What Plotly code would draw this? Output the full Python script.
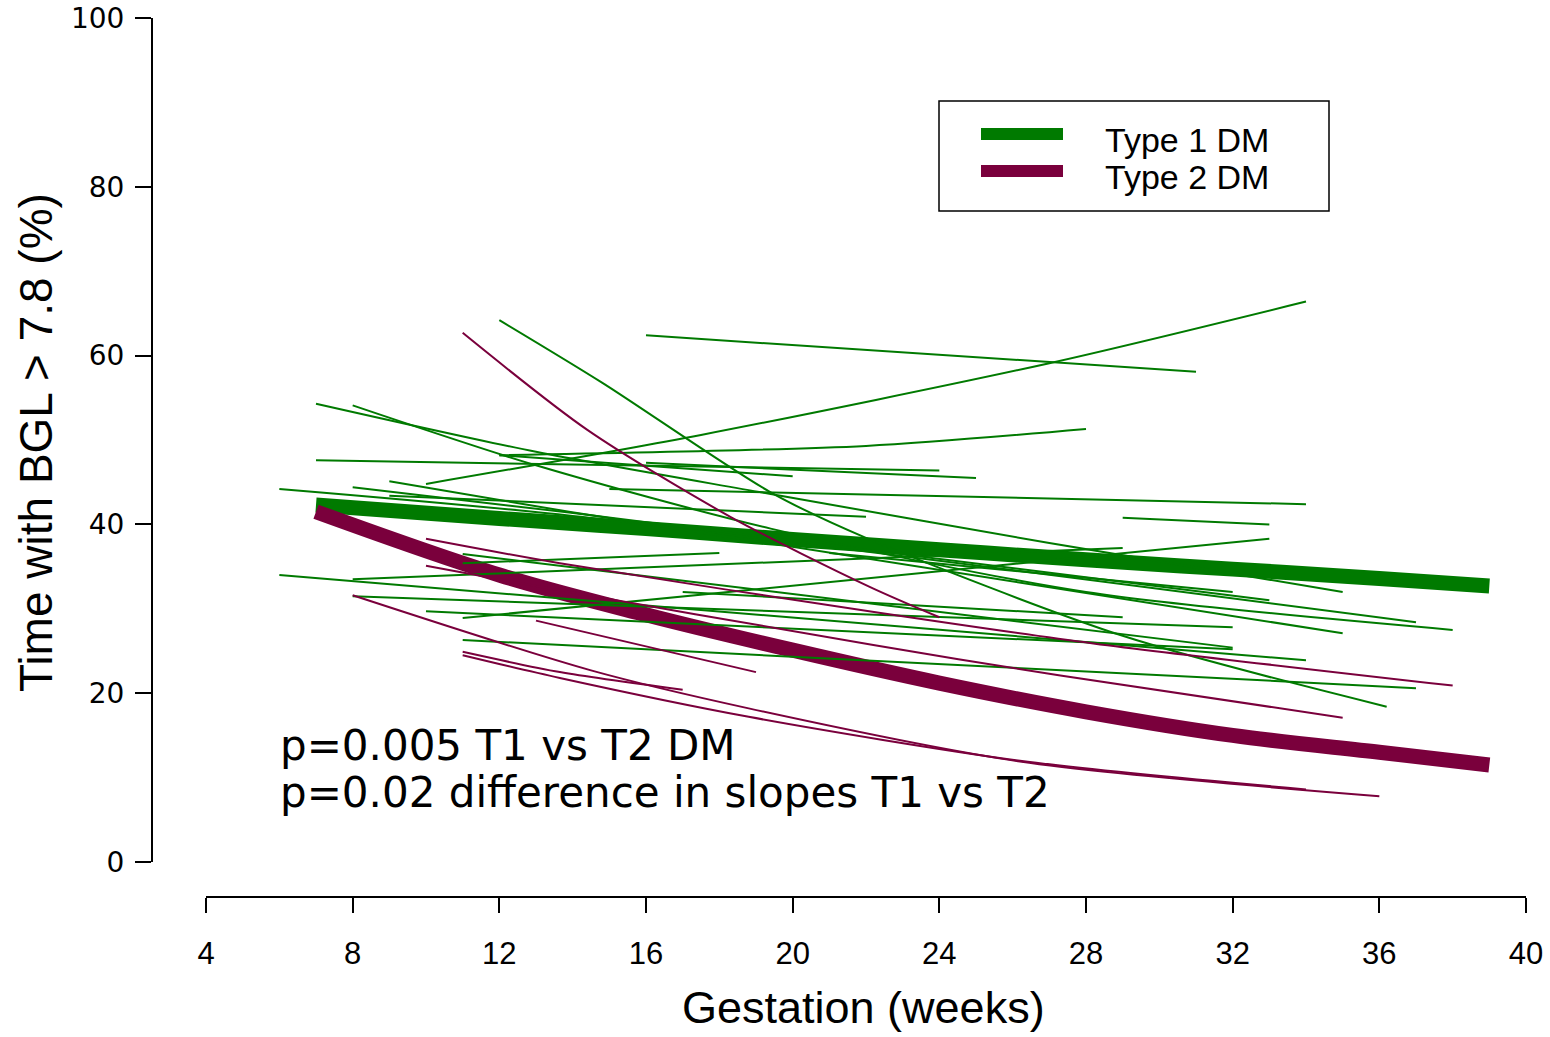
import plotly.graph_objects as go

# ---------------- data ----------------
# Fitted group curves (weeks, % time with BGL > 7.8)
t1_fit_weeks = [7, 12, 16, 20, 24, 28, 32, 36, 39]
t1_fit_vals = [42.3, 40.7, 39.5, 38.2, 37.0, 35.8, 34.7, 33.6, 32.7]
t2_fit_weeks = [7, 12, 16, 20, 24, 28, 32, 36, 39]
t2_fit_vals = [41.5, 34.0, 29.3, 25.1, 21.2, 17.8, 15.0, 13.0, 11.5]

# Individual Type 1 DM trajectories: (weeks, values)
t1_weeks = [
    [16, 31], [10, 17.5, 27, 34], [12, 14.8, 19.4, 22, 29, 36.2],
    [7, 13, 19.4, 27, 35], [8, 13, 19.4, 28, 38], [7, 24], [16, 25],
    [12, 22, 28], [12, 20], [15, 34], [29, 33], [8, 29], [11, 33],
    [11, 18], [21, 32], [9, 22], [6, 14, 37], [9, 13.9, 35], [8, 13.9, 33],
    [11, 32], [6, 34], [8, 32], [10, 32], [11, 37], [17, 29],
]
t1_vals = [
    [62.4, 58.1], [44.8, 50.6, 59.1, 66.4], [64.2, 56.8, 43.8, 38.4, 26.8, 18.4],
    [54.3, 48.6, 43.6, 37.8, 32.0], [54.1, 47.0, 39.5, 32.0, 27.5], [47.6, 46.4], [47.3, 45.5],
    [48.2, 49.3, 51.3], [48.2, 45.7], [44.2, 42.4], [40.8, 40.0], [33.5, 37.2], [28.9, 38.3],
    [35.4, 36.6], [36.6, 32.0], [43.4, 40.9], [44.2, 41.0, 28.4], [45.1, 41.5, 27.1], [44.4, 41.4, 31.0],
    [36.5, 25.4], [34.0, 23.9], [31.5, 27.8], [29.7, 25.2], [26.3, 20.6], [32.0, 29.0],
]

# Individual Type 2 DM trajectories
t2_weeks = [
    [11, 14.4, 18.3, 22.1, 24], [10, 13.65, 22.4, 28.2, 38], [10, 12.1, 22.2, 27.3, 35],
    [8, 14.5, 18.8, 26.2, 36], [11, 13.65, 17], [11, 13.65, 18.8, 26.2, 34], [13, 19],
]
t2_vals = [
    [62.7, 51.2, 40.9, 32.6, 29.0], [38.3, 35.4, 29.5, 25.9, 20.9], [35.1, 33.4, 25.7, 22.1, 17.1],
    [31.6, 22.7, 18.2, 11.9, 7.8], [24.9, 22.5, 20.4], [24.5, 21.8, 17.2, 12.0, 8.6], [28.6, 22.5],
]

x_ticks = [4, 8, 12, 16, 20, 24, 28, 32, 36, 40]
y_ticks = [0, 20, 40, 60, 80, 100]
legend_labels = ["Type 1 DM", "Type 2 DM"]
stats_text = ["p=0.005 T1 vs T2 DM", "p=0.02 difference in slopes T1 vs T2"]

GREEN = "#007a00"
PURPLE = "#7a003c"
FONT = "Liberation Sans, Arial, sans-serif"
WIDE = "DejaVu Sans, Liberation Sans, sans-serif"

fig = go.Figure()

# Thick fitted curves
fig.add_trace(go.Scatter(x=t1_fit_weeks, y=t1_fit_vals, mode="lines",
                         line=dict(color=GREEN, width=15, shape="spline"),
                         showlegend=False, hoverinfo="skip"))
fig.add_trace(go.Scatter(x=t2_fit_weeks, y=t2_fit_vals, mode="lines",
                         line=dict(color=PURPLE, width=15, shape="spline"),
                         showlegend=False, hoverinfo="skip"))

for xs, ys in zip(t1_weeks, t1_vals):
    fig.add_trace(go.Scatter(x=xs, y=ys, mode="lines",
                             line=dict(color=GREEN, width=2, shape="spline", smoothing=0.8),
                             showlegend=False, hoverinfo="skip"))
for xs, ys in zip(t2_weeks, t2_vals):
    fig.add_trace(go.Scatter(x=xs, y=ys, mode="lines",
                             line=dict(color=PURPLE, width=2, shape="spline", smoothing=0.8),
                             showlegend=False, hoverinfo="skip"))

# Paper geometry helpers (plot paper spans x 152..1526, y 18..897 in pixels)
L, R, T, B = 152, 24, 18, 140
PW, PH = 1550 - L - R, 1037 - T - B


def px(xp):
    return (xp - L) / PW


def py(yp):
    return (1037 - B - yp) / PH


shapes = []
annotations = []

# Legend box
shapes.append(dict(type="rect", xref="paper", yref="paper",
                   x0=px(939), x1=px(1329), y0=py(211), y1=py(101),
                   line=dict(color="black", width=1.5), fillcolor="white", layer="above"))
for lab, col, yy in zip(legend_labels, [GREEN, PURPLE], [134, 171]):
    shapes.append(dict(type="line", xref="paper", yref="paper",
                       x0=px(981), x1=px(1063), y0=py(yy), y1=py(yy),
                       line=dict(color=col, width=12), layer="above"))
    annotations.append(dict(text=lab, xref="paper", yref="paper", x=px(1103), y=py(yy + 6),
                            xanchor="left", yanchor="middle", showarrow=False,
                            font=dict(family=FONT, size=34, color="black")))

# Statistics text
for txt, yy in zip(stats_text, [745, 792]):
    annotations.append(dict(text=txt, xref="paper", yref="paper", x=px(278), y=py(yy),
                            xanchor="left", yanchor="middle", showarrow=False,
                            font=dict(family=WIDE, size=42, color="black")))

# Axis titles
annotations.append(dict(text="Time with BGL > 7.8 (%)", xref="paper", yref="paper",
                        x=px(36), y=py(443), textangle=-90, xanchor="center", yanchor="middle",
                        showarrow=False, font=dict(family=FONT, size=46, color="black")))
annotations.append(dict(text="Gestation (weeks)", xref="paper", yref="paper",
                        x=px(864), y=py(1008), xanchor="center", yanchor="middle",
                        showarrow=False, font=dict(family=FONT, size=45, color="black")))

fig.update_layout(
    width=1550, height=1037,
    margin=dict(l=L, r=R, t=T, b=B, autoexpand=False),
    paper_bgcolor="white", plot_bgcolor="white",
    showlegend=False,
    shapes=shapes, annotations=annotations,
    xaxis=dict(range=[4, 40], domain=[px(206), 1], anchor="free", position=0,
               tickvals=x_ticks, ticktext=[str(v) for v in x_ticks],
               ticks="outside", ticklen=15, tickwidth=1.5, tickcolor="black",
               showline=True, linecolor="black", linewidth=2, automargin=False,
               showgrid=False, zeroline=False, ticklabelstandoff=14,
               tickfont=dict(family=FONT, size=31, color="black")),
    yaxis=dict(range=[0, 100], domain=[py(862), 1], anchor="free", position=0,
               tickvals=y_ticks, ticktext=[str(v) for v in y_ticks],
               ticks="outside", ticklen=16, tickwidth=1.5, tickcolor="black",
               showline=True, linecolor="black", linewidth=2, automargin=False,
               showgrid=False, zeroline=False, ticklabelstandoff=5,
               tickfont=dict(family=WIDE, size=28, color="black")),
)

fig.write_html("out.html")
